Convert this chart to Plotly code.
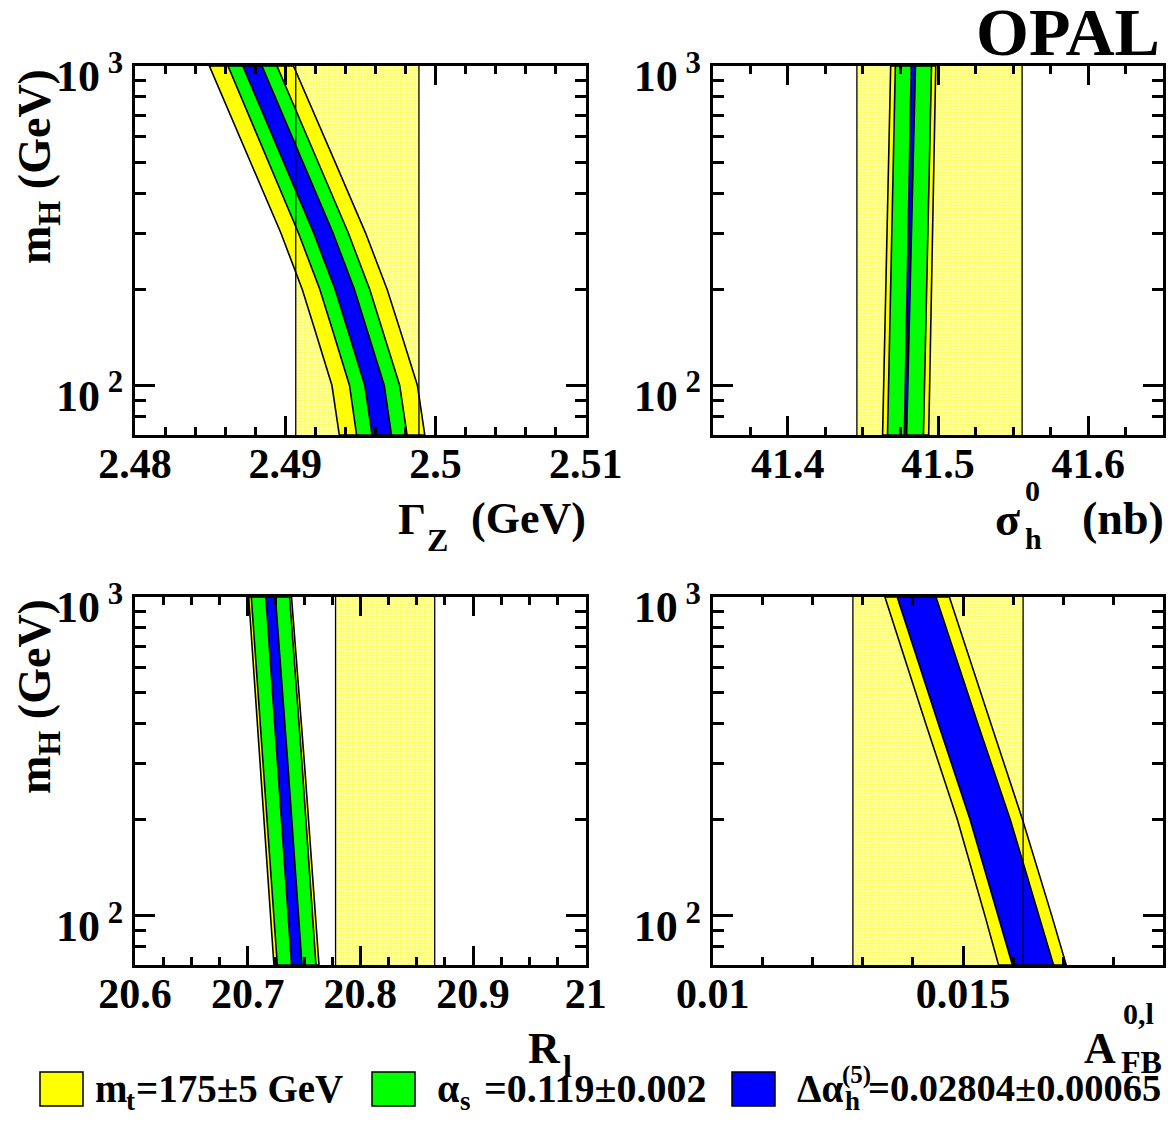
import math
import plotly.graph_objects as go

W, H = 1173, 1145

# ---------------- data ----------------
MH_RANGE = [70, 1000]

# Gamma_Z panel (GeV)
GZ_MH = [70, 100, 150, 200, 300, 500, 700, 1000]
GZ_YEL_LO = [2.49360, 2.49311, 2.49196, 2.49113, 2.48971, 2.48769, 2.48637, 2.48495]
GZ_GRN_LO = [2.49475, 2.49428, 2.49313, 2.49230, 2.49088, 2.48887, 2.48755, 2.48619]
GZ_BLU_LO = [2.49578, 2.49530, 2.49415, 2.49332, 2.49190, 2.48989, 2.48857, 2.48718]
GZ_BLU_HI = [2.49707, 2.49659, 2.49543, 2.49460, 2.49318, 2.49117, 2.48985, 2.48845]
GZ_GRN_HI = [2.49811, 2.49762, 2.49646, 2.49562, 2.49420, 2.49218, 2.49086, 2.48945]
GZ_YEL_HI = [2.49929, 2.49880, 2.49763, 2.49678, 2.49535, 2.49332, 2.49199, 2.49055]
GZ_MEAS = [2.4948, 0.0041]

# sigma_h^0 panel (nb)
SIG_MH = [70, 300, 1000]
SIG_YEL_LO = [41.4631, 41.4660, 41.4685]
SIG_GRN_LO = [41.4664, 41.4692, 41.4716]
SIG_BLU_LO = [41.4776, 41.4802, 41.4822]
SIG_BLU_HI = [41.4791, 41.4823, 41.4850]
SIG_GRN_HI = [41.4903, 41.4933, 41.4957]
SIG_YEL_HI = [41.4938, 41.4964, 41.4985]
SIG_MEAS = [41.501, 0.055]

# R_l panel
RL_MH = [70, 300, 1000]
RL_YEL_LO = [20.7233, 20.7110, 20.7009]
RL_GRN_LO = [20.7263, 20.7140, 20.7032]
RL_BLU_LO = [20.7390, 20.7268, 20.7161]
RL_BLU_HI = [20.7482, 20.7356, 20.7246]
RL_GRN_HI = [20.7606, 20.7482, 20.7372]
RL_YEL_HI = [20.7633, 20.7504, 20.7389]
RL_MEAS = [20.822, 0.044]

# A_FB^{0,l} panel
AFB_MH = [70, 100, 200, 400, 1000]
AFB_YEL_LO = [0.015710, 0.015437, 0.014888, 0.014256, 0.013440]
AFB_BLU_LO = [0.015986, 0.015704, 0.015142, 0.014507, 0.013685]
AFB_BLU_HI = [0.016808, 0.016520, 0.015944, 0.015295, 0.014459]
AFB_YEL_HI = [0.017061, 0.016772, 0.016189, 0.015557, 0.014727]
AFB_MEAS = [0.0145, 0.0017]

# axes
GZ_RANGE = [2.48, 2.51]
GZ_TICKS = [2.48, 2.49, 2.5, 2.51]
GZ_TICKTEXT = ["2.48", "2.49", "2.5", "2.51"]
GZ_MINOR = 0.002
SIG_RANGE = [41.35, 41.65]
SIG_TICKS = [41.4, 41.5, 41.6]
SIG_TICKTEXT = ["41.4", "41.5", "41.6"]
SIG_MINOR = 0.025
RL_RANGE = [20.6, 21.0]
RL_TICKS = [20.6, 20.7, 20.8, 20.9, 21.0]
RL_TICKTEXT = ["20.6", "20.7", "20.8", "20.9", "21"]
RL_MINOR = 0.025
AFB_RANGE = [0.01, 0.019]
AFB_TICKS = [0.01, 0.015]
AFB_TICKTEXT = ["0.01", "0.015"]
AFB_MINOR = 0.001
Y_TICKS = [100, 1000]
Y_TICKTEXT = ["10<sup> 2</sup>", "10<sup> 3</sup>"]
Y_MINOR = [80, 90, 200, 300, 400, 500, 600, 700, 800, 900]

YELLOW = "#ffff00"
GREEN = "#00ff00"
BLUE = "#0000ff"
FONT = "Liberation Serif"

# ---------------- layout geometry (pixels) ----------------
COLS = [[135, 585.7], [712.7, 1163.3]]
ROWS = [[66, 435], [597, 965]]


def px(x):
    return x / W


def py(y):
    return 1 - y / H


fig = go.Figure()

panels = [
    dict(col=0, row=0, rng=GZ_RANGE, ticks=GZ_TICKS, tt=GZ_TICKTEXT, minor=GZ_MINOR,
         mh=GZ_MH, bands=[(GZ_YEL_LO, GZ_YEL_HI, YELLOW), (GZ_GRN_LO, GZ_GRN_HI, GREEN),
                          (GZ_BLU_LO, GZ_BLU_HI, BLUE)], meas=GZ_MEAS),
    dict(col=1, row=0, rng=SIG_RANGE, ticks=SIG_TICKS, tt=SIG_TICKTEXT, minor=SIG_MINOR,
         mh=SIG_MH, bands=[(SIG_YEL_LO, SIG_YEL_HI, YELLOW), (SIG_GRN_LO, SIG_GRN_HI, GREEN),
                           (SIG_BLU_LO, SIG_BLU_HI, BLUE)], meas=SIG_MEAS),
    dict(col=0, row=1, rng=RL_RANGE, ticks=RL_TICKS, tt=RL_TICKTEXT, minor=RL_MINOR,
         mh=RL_MH, bands=[(RL_YEL_LO, RL_YEL_HI, YELLOW), (RL_GRN_LO, RL_GRN_HI, GREEN),
                          (RL_BLU_LO, RL_BLU_HI, BLUE)], meas=RL_MEAS),
    dict(col=1, row=1, rng=AFB_RANGE, ticks=AFB_TICKS, tt=AFB_TICKTEXT, minor=AFB_MINOR,
         mh=AFB_MH, bands=[(AFB_YEL_LO, AFB_YEL_HI, YELLOW), (AFB_BLU_LO, AFB_BLU_HI, BLUE)],
         meas=AFB_MEAS),
]

for i, p in enumerate(panels, start=1):
    xa = "x" if i == 1 else f"x{i}"
    ya = "y" if i == 1 else f"y{i}"
    lo = p["meas"][0] - p["meas"][1]
    hi = p["meas"][0] + p["meas"][1]
    # hatched measurement band
    fig.add_trace(go.Scatter(
        x=[lo, hi, hi, lo, lo], y=[MH_RANGE[0], MH_RANGE[0], MH_RANGE[1], MH_RANGE[1], MH_RANGE[0]],
        mode="lines", fill="toself", line=dict(width=0, color="rgba(0,0,0,0)"),
        fillcolor="white",
        fillpattern=dict(shape="+", fgcolor=YELLOW, bgcolor="#ffffd2", size=3, solidity=0.7),
        xaxis=xa, yaxis=ya, showlegend=False, hoverinfo="skip"))
    # prediction bands
    for blo, bhi, col in p["bands"]:
        fig.add_trace(go.Scatter(
            x=list(blo) + list(bhi)[::-1] + [blo[0]],
            y=list(p["mh"]) + list(p["mh"])[::-1] + [p["mh"][0]],
            mode="lines", fill="toself", fillcolor=col,
            line=dict(color="black", width=1.6),
            xaxis=xa, yaxis=ya, showlegend=False, hoverinfo="skip"))
    # measurement edges
    for xv in (lo, hi):
        fig.add_trace(go.Scatter(
            x=[xv, xv], y=MH_RANGE, mode="lines", line=dict(color="black", width=1.3),
            xaxis=xa, yaxis=ya, showlegend=False, hoverinfo="skip"))

    c0, c1 = COLS[p["col"]]
    r0, r1 = ROWS[p["row"]]
    r = p["rng"]
    minor_vals = []
    k = 0
    while True:
        v = r[0] + k * p["minor"]
        if v > r[1] + 1e-9:
            break
        minor_vals.append(v)
        k += 1
    xkey = "xaxis" if i == 1 else f"xaxis{i}"
    ykey = "yaxis" if i == 1 else f"yaxis{i}"
    fig.update_layout(**{
        xkey: dict(domain=[px(c0), px(c1)], range=r, anchor=ya, showgrid=False, zeroline=False,
                   automargin=False,
                   showline=True, linecolor="black", linewidth=3, mirror="ticks",
                   ticks="inside", ticklen=19, tickwidth=2.5, tickcolor="black",
                   tickmode="array", tickvals=p["ticks"], ticktext=[f"<b>{t}</b>" for t in p["tt"]],
                   tickfont=dict(family=FONT, size=42, color="black"),
                   ticklabelstandoff=-10,
                   minor=dict(ticks="inside", ticklen=8, tickwidth=2.5, tickcolor="black",
                              tickmode="array", tickvals=minor_vals),
                   fixedrange=True),
        ykey: dict(domain=[py(r1), py(r0)], type="log",
                   range=[math.log10(MH_RANGE[0]), math.log10(MH_RANGE[1])], anchor=xa,
                   showgrid=False, zeroline=False, automargin=False,
                   showline=True, linecolor="black", linewidth=3, mirror="ticks",
                   ticks="inside", ticklen=20, tickwidth=2.5, tickcolor="black",
                   tickmode="array", tickvals=Y_TICKS, ticktext=[f"<b>{t}</b>" for t in Y_TICKTEXT],
                   tickfont=dict(family=FONT, size=44, color="black"),
                   ticklabelshift=10,
                   minor=dict(ticks="inside", ticklen=11, tickwidth=2.5, tickcolor="black",
                              tickmode="array", tickvals=Y_MINOR),
                   fixedrange=True),
    })

anns = []


def ann(text, x, y, size, xanchor="left", yanchor="middle", angle=0):
    anns.append(dict(text=f"<b>{text}</b>", x=px(x), y=py(y), xref="paper", yref="paper",
                     xanchor=xanchor, yanchor=yanchor, showarrow=False, textangle=angle,
                     font=dict(family=FONT, size=size, color="black")))


# axis titles
ann("Γ", 396, 520, 44)
ann("Z", 425, 540, 32)
ann("(GeV)", 588, 518, 44, xanchor="right")
ann("σ", 993, 520, 46)
ann("0", 1023, 490, 30)
ann("h", 1023, 538, 30)
ann("(nb)", 1166, 518, 46, xanchor="right")
ann("R", 526, 1048, 44)
ann("l", 561, 1066, 32)
ann("A", 1082, 1048, 44)
ann("0,l", 1121, 1013, 30)
ann("FB", 1119, 1062, 32)
ann("m<sub>H</sub> (GeV)", 38, 167, 46, xanchor="center", angle=-90)
ann("m<sub>H</sub> (GeV)", 38, 697, 46, xanchor="center", angle=-90)
ann("OPAL", 1162, 32, 68, xanchor="right")

# legend
shapes = []
LEG = [(40, YELLOW), (372, GREEN), (732, BLUE)]
for x0, col in LEG:
    shapes.append(dict(type="rect", xref="paper", yref="paper", x0=px(x0), x1=px(x0 + 43),
                       y0=py(1106), y1=py(1072), fillcolor=col, line=dict(color="black", width=1.5)))
ann("m", 93, 1088, 39)
ann("t", 124, 1101, 27)
ann("=175±5 GeV", 134, 1088, 39)
ann("α", 435, 1088, 40)
ann("s", 458, 1101, 27)
ann("=0.119±0.002", 482, 1088, 40)
ann("Δα", 795, 1088, 39)
ann("(5)", 840, 1075, 25)
ann("h", 843, 1101, 27)
ann("=0.02804±0.00065", 866, 1088, 38.5)

fig.update_layout(width=W, height=H, margin=dict(l=0, r=0, t=0, b=0),
                  paper_bgcolor="white", plot_bgcolor="white",
                  showlegend=False, annotations=anns, shapes=shapes)

fig.write_html("out.html", config={"displayModeBar": False},
               post_script="document.body.style.margin='0';document.body.style.overflow='hidden';")
